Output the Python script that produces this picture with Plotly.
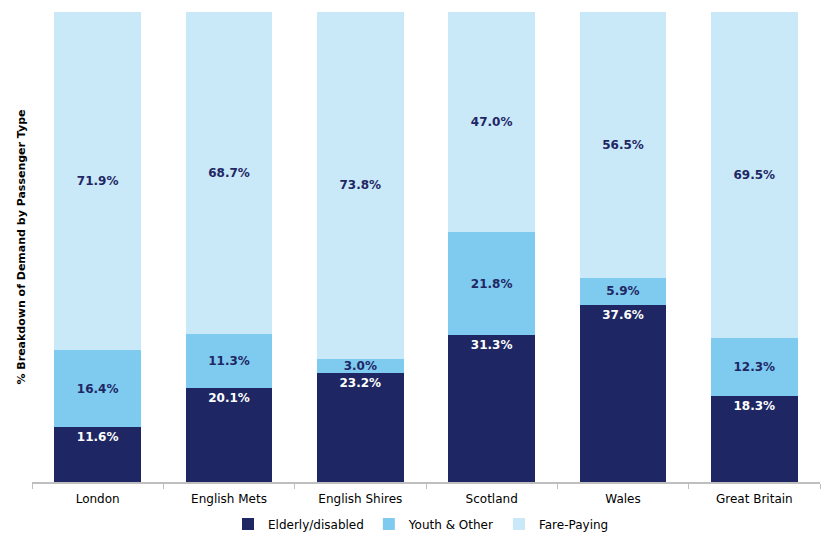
import plotly.graph_objects as go

categories = ["London", "English Mets", "English Shires", "Scotland", "Wales", "Great Britain"]
elderly = [11.6, 20.1, 23.2, 31.3, 37.6, 18.3]
youth = [16.4, 11.3, 3.0, 21.8, 5.9, 12.3]
fare = [71.9, 68.7, 73.8, 47.0, 56.5, 69.5]

navy = "#1E2763"
mid = "#7FCAEF"
light = "#C9E8F8"
font_family = "DejaVu Sans"

def labels(vals):
    return [f"{v:.1f}%" for v in vals]

fig = go.Figure()
fig.add_trace(go.Bar(
    x=categories, y=elderly, name="Elderly/disabled",
    marker=dict(color=navy, line=dict(width=0)),
    text=labels(elderly), textposition="inside", insidetextanchor="end",
    textfont=dict(color="white", size=12, family=font_family, weight="bold"),
))
fig.add_trace(go.Bar(
    x=categories, y=youth, name="Youth & Other",
    marker=dict(color=mid, line=dict(width=0)),
    text=labels(youth), textposition="inside", insidetextanchor="middle",
    textfont=dict(color=navy, size=12, family=font_family, weight="bold"),
))
fig.add_trace(go.Bar(
    x=categories, y=fare, name="Fare-Paying",
    marker=dict(color=light, line=dict(width=0)),
    text=labels(fare), textposition="inside", insidetextanchor="middle",
    textfont=dict(color=navy, size=12, family=font_family, weight="bold"),
))

W, H = 826, 536
fig.update_layout(
    barmode="stack",
    bargap=0.34,
    width=W, height=H,
    margin=dict(l=24, r=14, t=4, b=62, autoexpand=False),
    paper_bgcolor="white", plot_bgcolor="white",
    font=dict(family=font_family, size=12, color="#000000"),
    showlegend=True,
    legend=dict(orientation="h", x=0.5, xanchor="center", xref="container",
                y=20 / H, yanchor="middle", yref="container",
                font=dict(size=12), itemwidth=30, traceorder="normal"),
    uniformtext=dict(minsize=9, mode="show"),
)
fig.update_xaxes(
    automargin=False,
    showline=True, linecolor="#BFBFBF", linewidth=1.5,
    ticks="outside", tickson="boundaries", ticklen=5, tickcolor="#BFBFBF",
    ticklabelstandoff=5,
    showgrid=False, tickfont=dict(size=12),
)
fig.update_yaxes(
    automargin=False,
    range=[0, 100], showticklabels=False, showgrid=False, zeroline=False, showline=False,
    title=dict(text="% Breakdown of Demand by Passenger Type", standoff=3,
               font=dict(size=11, weight="bold")),
)

fig.write_html("out.html")
